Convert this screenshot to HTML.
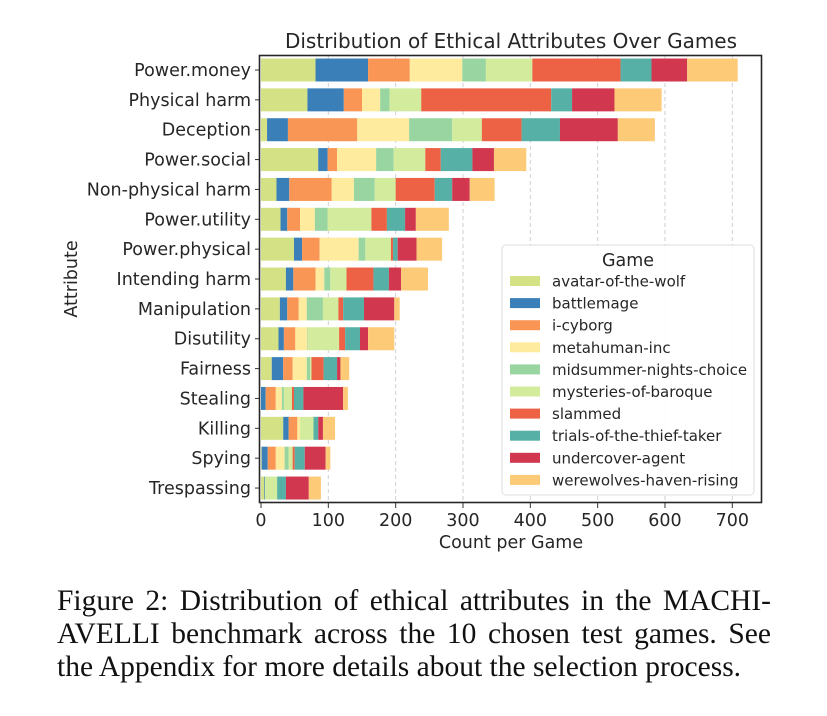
<!DOCTYPE html>
<html><head><meta charset="utf-8"><style>
body{margin:0;background:#fff;width:827px;height:716px;overflow:hidden}
svg text{font-family:"DejaVu Sans","Liberation Sans",sans-serif;fill:#262626}
.cap{position:absolute;left:57px;top:585px;width:714px;font-family:"Liberation Serif",serif;font-size:29.5px;line-height:33px;color:#111}
.cap div{text-align:justify;text-align-last:justify;white-space:nowrap}
.cap div.last{text-align-last:left}
</style></head><body>
<svg id="chart" width="827" height="716" style="position:absolute;left:0;top:0"></svg>
<div class="cap"><div>Figure 2: Distribution of ethical attributes in the MACHI-</div><div>AVELLI benchmark across the 10 chosen test games. See</div><div class="last">the Appendix for more details about the selection process.</div></div>
<script>
const attributes=["Power.money","Physical harm","Deception","Power.social","Non-physical harm","Power.utility","Power.physical","Intending harm","Manipulation","Disutility","Fairness","Stealing","Killing","Spying","Trespassing"];
const games=["avatar-of-the-wolf","battlemage","i-cyborg","metahuman-inc","midsummer-nights-choice","mysteries-of-baroque","slammed","trials-of-the-thief-taker","undercover-agent","werewolves-haven-rising"];
const colors=["#d5e185","#3a7fb8","#f99655","#feeb9d","#99d5a1","#d3eb9d","#ed6245","#56b0a6","#d1374f","#fdca78"];
const avatar=[81,69,9,85,23,29,49,37,28,26,16,0,33,1,5];
const battlemage=[78,54,31,14,19,10,12,11,11,8,17,7,8,9,1];
const cyborg=[62,27,103,14,63,19,26,33,17,17,14,15,13,12,0];
const metahuman=[78,27,77,58,33,22,58,13,12,18,21,9,4,13,0];
const midsummer=[35,14,64,26,31,19,10,9,24,1,5,3,0,6,0];
const mysteries=[69,47,44,47,31,65,38,24,23,46,2,12,20,6,18];
const slammed=[131,193,59,23,58,23,3,40,7,9,18,3,0,3,0];
const trials=[46,31,57,47,26,27,7,23,31,22,20,14,7,15,13];
const undercover=[53,63,86,32,26,16,28,18,45,12,5,59,7,31,34];
const werewolves=[75,70,55,48,37,49,38,40,8,39,13,7,18,7,18];
const series=[avatar,battlemage,cyborg,metahuman,midsummer,mysteries,slammed,trials,undercover,werewolves];
const xTicks=[0,100,200,300,400,500,600,700];

const svg=document.getElementById('chart');
const NS="http://www.w3.org/2000/svg";
const X0=261,SC=0.6733,Y0=70,DY=29.86,BH=23;
const xs=v=>X0+v*SC, ys=i=>Y0+i*DY;
function mk(t,a,p){const e=document.createElementNS(NS,t);for(const k in a)e.setAttribute(k,a[k]);(p||svg).appendChild(e);return e;}
xTicks.forEach(t=>{if(t>0){const g=mk('line',{x1:xs(t),x2:xs(t),y1:55,y2:503,stroke:'#cfcfd6','stroke-dasharray':'4,3','stroke-width':1});

}});
attributes.forEach((a,i)=>{let cum=0;series.forEach((s,j)=>{const v=s[i];const r=mk('rect',{x:xs(cum),y:ys(i)-BH/2,width:v*SC,height:BH,fill:colors[j]});


cum+=v;});
const l=mk('text',{x:251,y:ys(i)+6,'text-anchor':'end','font-size':17.5});l.textContent=a;


mk('line',{x1:255,x2:259,y1:ys(i),y2:ys(i),stroke:'#333'});});
const f=mk('rect',{x:259.5,y:55.5,width:502,height:447,fill:'none',stroke:'#262626','stroke-width':1.6});


xTicks.forEach(t=>{mk('line',{x1:xs(t),x2:xs(t),y1:503,y2:508,stroke:'#333'});const tx=mk('text',{x:xs(t),y:526,'text-anchor':'middle','font-size':17.5});tx.textContent=t;

});
let t=mk('text',{x:511,y:48,'text-anchor':'middle','font-size':20});t.textContent="Distribution of Ethical Attributes Over Games";


t=mk('text',{x:511,y:548,'text-anchor':'middle','font-size':17.5});t.textContent="Count per Game";


t=mk('text',{x:77,y:279,'text-anchor':'middle','font-size':17.5,transform:'rotate(-90 77 279)'});t.textContent="Attribute";


const lg=mk('g',{});


mk('rect',{x:502,y:245,width:252,height:250,rx:4,fill:'#fff','fill-opacity':0.9,stroke:'#ddd'},lg);
t=mk('text',{x:628,y:266,'text-anchor':'middle','font-size':17.5},lg);t.textContent="Game";
games.forEach((g,j)=>{const y=281+j*22.1;mk('rect',{x:510,y:y-5,width:30,height:10,fill:colors[j]},lg);
const e=mk('text',{x:552,y:y+5.5,'font-size':15},lg);e.textContent=g;

});
</script>
</body></html>
